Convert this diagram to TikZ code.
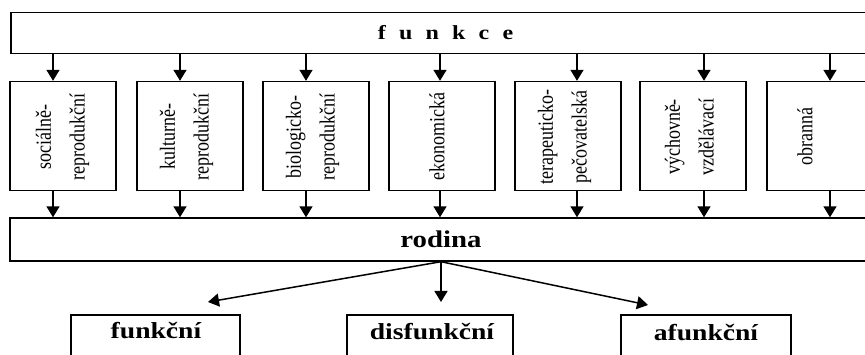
\documentclass[tikz,border=0pt]{standalone}
\usepackage{fontspec}
\setmainfont{Liberation Serif}
\usetikzlibrary{arrows.meta}

% two-line label set vertically, reading upwards
\newcommand{\vlab}[2]{\scalebox{1.2}[1]{\rotatebox{90}{\fontsize{18}{28}\selectfont\begin{tabular}{@{}c@{}}#1\\#2\end{tabular}}}}
% one-line vertical label
\newcommand{\vone}[1]{\scalebox{1.2}[1]{\rotatebox{90}{\fontsize{18}{28}\selectfont #1}}}
% bold horizontal label
\newcommand{\hlab}[2]{\scalebox{1.2}[1]{\bfseries\fontsize{#1}{#1}\selectfont #2}}

\tikzset{
  frame/.style={draw=black, line width=1.4pt, inner sep=0pt, fill=white},
  smallbox/.style={frame, minimum width=106pt, minimum height=109pt},
  lowbox/.style={frame, minimum height=45pt},
  txt/.style={inner sep=0pt},
  arr/.style={line width=1.5pt, -{Triangle[length=11pt,width=13pt]}},
}

\begin{document}
\begin{tikzpicture}[x=1pt,y=-1pt]
\useasboundingbox (0,0) rectangle (865,355);
\fill[white] (0,0) rectangle (865,355);

% top bar
\node[frame, minimum width=869pt, minimum height=41pt] (funkce) at (445.5,33)
  {\hlab{20}{\spaceskip=11pt\relax f u n k c e}};

% family bar
\node[frame, minimum width=862pt, minimum height=43pt] (rodina) at (441,239.5)
  {\hlab{24}{rodina}};

% the seven functions
\node[smallbox] (f1) at (63,136) {};
\node[smallbox] (f2) at (190,136) {};
\node[smallbox] (f3) at (316,136) {};
\node[smallbox] (f4) at (442,136) {};
\node[smallbox] (f5) at (568,136) {};
\node[smallbox] (f6) at (693,136) {};
\node[smallbox] (f7) at (820,136) {};

\node[txt] (l1) at (61,137) {\vlab{sociálně-}{reprodukční}};
\node[txt] (l2) at (185,137) {\vlab{kulturně-}{reprodukční}};
\node[txt] (l3) at (311,137) {\vlab{biologicko-}{reprodukční}};
\node[txt] (l4) at (437,137) {\vone{ekonomická}};
\node[txt] (l5) at (563,137) {\vlab{terapeuticko-}{pečovatelská}};
\node[txt] (l6) at (690,137) {\vlab{výchovně-}{vzdělávací}};
\node[txt] (l7) at (805,137) {\vone{obranná}};

% arrow columns
\coordinate (a1) at (53,0);
\coordinate (a2) at (180,0);
\coordinate (a3) at (306,0);
\coordinate (a4) at (440,0);
\coordinate (a5) at (577,0);
\coordinate (a6) at (704,0);
\coordinate (a7) at (830,0);

\foreach \i in {1,...,7} {
  \draw[arr] (funkce.south -| a\i) -- (f\i.north -| a\i);
  \draw[arr] (f\i.south -| a\i) -- (rodina.north -| a\i);
}

% three kinds of family
\node[lowbox, minimum width=169pt] (b1) at (155.5,337.5) {};
\node[lowbox, minimum width=166pt] (b2) at (430,337.5) {};
\node[lowbox, minimum width=170pt] (b3) at (706,337.5) {};

\node[txt] (t1) at (156,331) {\hlab{23}{funkční}};
\node[txt] (t2) at (432,332) {\hlab{23}{disfunkční}};
\node[txt] (t3) at (706,333) {\hlab{23}{afunkční}};

\coordinate (e1) at (208,302);
\coordinate (e2) at (441,302);
\coordinate (e3) at (648,305);
\draw[arr] (rodina.south) -- (e1);
\draw[arr] (rodina.south) -- (e2);
\draw[arr] (rodina.south) -- (e3);
\end{tikzpicture}
\end{document}
